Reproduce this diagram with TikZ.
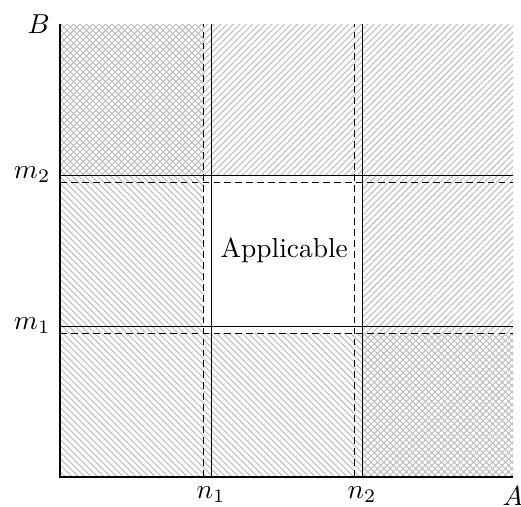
\documentclass[tikz,border=0pt]{standalone}
\usetikzlibrary{patterns.meta}
\begin{document}
\begin{tikzpicture}[x=0.968cm, y=0.968cm,
	hatchNE/.style={pattern={Lines[angle=45, distance=1.65pt, line width=0.4pt]}, pattern color=gray!50},
	hatchNW/.style={pattern={Lines[angle=-45, distance=1.65pt, line width=0.4pt]}, pattern color=gray!50},
	bound/.style={line width=0.35pt},
	limit/.style={line width=0.4pt, dash pattern=on 2.5pt off 1.5pt},
	axis/.style={line width=0.8pt}]
	\useasboundingbox (-0.795,-0.397) rectangle (6.106,6.318);
	
	% hatched regions
	\fill[hatchNE] (0,4) rectangle (6,6);
	\fill[hatchNE] (4,0) rectangle (6,4);
	\fill[hatchNW] (0,0) rectangle (1.9,6);
	\fill[hatchNW] (1.9,0) rectangle (6,1.9);
	
	% solid bounds
	\draw[bound] (2,0) -- (2,6);
	\draw[bound] (4,0) -- (4,6);
	\draw[bound] (0,2) -- (6,2);
	\draw[bound] (0,4) -- (6,4);
	%
	% dashed bounds
	\draw[limit] (1.9,0) -- (1.9,6);
	\draw[limit] (3.9,0) -- (3.9,6);
	\draw[limit] (0,1.9) -- (6,1.9);
	\draw[limit] (0,3.9) -- (6,3.9);
	
	% axes
	\draw[axis] (0,6) node[left] (B) {$B$} -- (0,0) -- (6,0) node[below] (A) {$A$};
	
	\node[below] (n1) at (2,0) {$n_1$};
	\node[below] (n2) at (4,0) {$n_2$};
	\node[left] (m1) at (0,2) {$m_1$};
	\node[left] (m2) at (0,4) {$m_2$};
	
	\node (app) at (2.97,3) {Applicable};
\end{tikzpicture}
\end{document}
